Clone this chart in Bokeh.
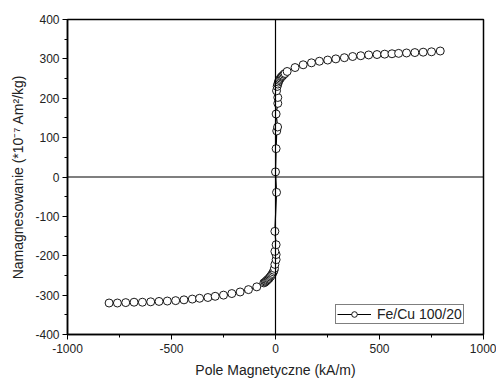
from bokeh.plotting import figure
from bokeh.models import Span, FixedTicker, Range1d, Legend, LegendItem
from bokeh.embed import file_html
from bokeh.resources import INLINE

field = [-800, -760, -720, -680, -640, -600, -560, -520, -480, -440, -400, -365, -325, -290,
         -250, -210, -170, -130, -90, -56,
         -50, -46, -42, -38, -34, -30, -26, -22, -18, -14, -10, -7, -5,
         -3, 3, 3, -3, 3, -3, 5, 0, 3, 6, 10, 3, 11, 11, 5,
         8, 11, 14, 17, 20, 24, 28, 32, 36, 41, 46, 56,
         94, 133, 173, 211, 251, 290, 331, 371, 410, 448, 488, 525, 560, 592,
         630, 670, 710, 750, 792]
magnet = [-320, -320, -319, -318, -318, -317, -316, -315, -314, -312, -310, -308, -306, -303,
          -300, -296, -292, -286, -279, -269,
          -267, -265, -263, -261, -259, -257, -254, -251, -248, -245, -241, -237, -232,
          -222, -210, -197, -189, -172, -138, -39, 13, 72, 117, 127, 160, 187, 202, 219,
          230, 236, 241, 245, 248, 251, 254, 256, 258, 261, 263, 268,
          278, 285, 290, 294, 297, 300, 303, 306, 308, 310, 311, 312, 313, 314,
          315, 316, 317, 318, 320]

x_ticks = [-1000, -500, 0, 500, 1000]
y_ticks = [-400, -300, -200, -100, 0, 100, 200, 300, 400]
series_name = "Fe/Cu 100/20"

FONT = "Liberation Sans"

p = figure(width=496, height=380, output_backend="svg", toolbar_location=None,
           x_range=Range1d(-1000, 1000), y_range=Range1d(-400, 400),
           min_border_left=67, min_border_right=13, min_border_top=19, min_border_bottom=46)
p.background_fill_color = "white"
p.border_fill_color = "white"
p.grid.visible = False
p.outline_line_color = "black"
p.outline_line_width = 1.5

p.xaxis.ticker = FixedTicker(ticks=x_ticks, minor_ticks=[-750, -250, 250, 750])
p.yaxis.ticker = FixedTicker(ticks=y_ticks, minor_ticks=[-350, -250, -150, -50, 50, 150, 250, 350])
p.xaxis.major_label_overrides = {t: str(t) for t in x_ticks}
p.yaxis.major_label_overrides = {t: str(t) for t in y_ticks}
for ax in (p.xaxis, p.yaxis):
    ax.axis_line_color = "black"
    ax.axis_line_width = 1.5
    ax.major_tick_line_color = "black"
    ax.minor_tick_line_color = "black"
    ax.major_tick_in = 0
    ax.major_tick_out = 5
    ax.minor_tick_in = 0
    ax.minor_tick_out = 3
    ax.major_label_text_font = FONT
    ax.major_label_text_font_size = "12px"
    ax.major_label_text_color = "#222222"
    ax.axis_label_text_font = FONT
    ax.axis_label_text_font_size = "14px"
    ax.axis_label_text_font_style = "normal"
    ax.axis_label_text_color = "#222222"
p.xaxis.axis_label = "Pole Magnetyczne (kA/m)"
p.yaxis.axis_label = "Namagnesowanie (*10\u207b\u2077 Am\u00b2/kg)"
p.xaxis.major_label_standoff = 4
p.xaxis.axis_label_standoff = 6
p.yaxis.major_label_standoff = 3
p.yaxis.axis_label_standoff = 6

p.add_layout(Span(location=0, dimension="width", line_color="black", line_width=1.2))
p.add_layout(Span(location=0, dimension="height", line_color="black", line_width=1.2))

ln = p.line(field, magnet, line_color="black", line_width=1.2)
sc = p.scatter(field, magnet, marker="circle", size=8, fill_color="white",
               line_color="black", line_width=0.9)

legend = Legend(items=[LegendItem(label=series_name, renderers=[ln, sc])],
                location=(268, 10), orientation="vertical")
legend.label_text_font = FONT
legend.label_text_font_size = "14px"
legend.label_text_color = "#222222"
legend.border_line_color = "black"
legend.border_line_width = 1
legend.background_fill_color = "white"
legend.glyph_width = 34
legend.glyph_height = 14
legend.padding = 1
legend.margin = 0
legend.spacing = 0
legend.label_standoff = 6
legend.label_height = 14
p.add_layout(legend)

open("out.html", "w").write(file_html(p, INLINE))
